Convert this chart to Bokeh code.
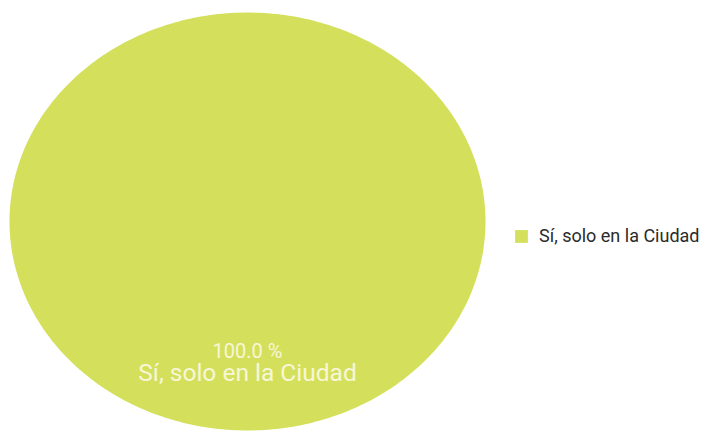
import numpy as np
from bokeh.plotting import figure
from bokeh.models import Range1d, ColumnDataSource, Legend, LegendItem
from bokeh.core.properties import value
from bokeh.embed import file_html
from bokeh.resources import INLINE

# Data
categories = ["Sí, solo en la Ciudad"]
values = [100.0]
colors = ["#d4e05c"]

W, H = 708, 431
p = figure(width=W, height=H, output_backend="svg", toolbar_location=None,
           x_range=Range1d(0, W), y_range=Range1d(H, 0),
           min_border=0, outline_line_color=None)
p.axis.visible = False
p.grid.visible = False
p.background_fill_color = "white"
p.border_fill_color = "white"

cx, cy, rx, ry = 247, 221, 238, 209
total = sum(values)
fracs = [v / total for v in values]
start = np.pi / 2
xs, ys, mids = [], [], []
for f in fracs:
    end = start - f * 2 * np.pi
    t = np.linspace(start, end, 361)
    if f < 1.0:
        px = np.concatenate([[cx], cx + rx * np.cos(t), [cx]])
        py = np.concatenate([[cy], cy - ry * np.sin(t), [cy]])
    else:
        px = cx + rx * np.cos(t)
        py = cy - ry * np.sin(t)
    xs.append(list(px))
    ys.append(list(py))
    mids.append((start + end) / 2)
    start = end

src = ColumnDataSource(dict(xs=xs, ys=ys, color=colors, cat=categories))
r = p.patches("xs", "ys", fill_color="color", line_color=None, source=src)

# Slice labels
lab_x, lab_y1, lab_y2, pct, names = [], [], [], [], []
for m, v, c in zip(mids, values, categories):
    lx = cx + 0.62 * rx * np.cos(m)
    ly = cy - 0.62 * ry * np.sin(m)
    lab_x.append(lx)
    lab_y1.append(ly)
    lab_y2.append(ly + 21)
    pct.append(f"{v / total * 100:.1f} %")
    names.append(c)

p.text(x=lab_x, y=lab_y1, text=pct, text_align="center", text_baseline="middle",
       text_font=value("Roboto"), text_font_size="20px", text_color="#f7f7d8")
p.text(x=lab_x, y=lab_y2, text=names, text_align="center", text_baseline="middle",
       text_font=value("Roboto"), text_font_size="24.5px", text_color="#f7f7d8")

legend = Legend(items=[LegendItem(label=categories[0], renderers=[r], index=0)],
                location=(513, H - 230 - 16), margin=0, padding=0,
                glyph_width=16, glyph_height=16, label_height=16,
                label_standoff=10, border_line_color=None,
                background_fill_alpha=0,
                label_text_font="Roboto", label_text_font_size="18px",
                label_text_color="#2b2b2b")
p.add_layout(legend)

open("out.html", "w").write(file_html(p, INLINE))
